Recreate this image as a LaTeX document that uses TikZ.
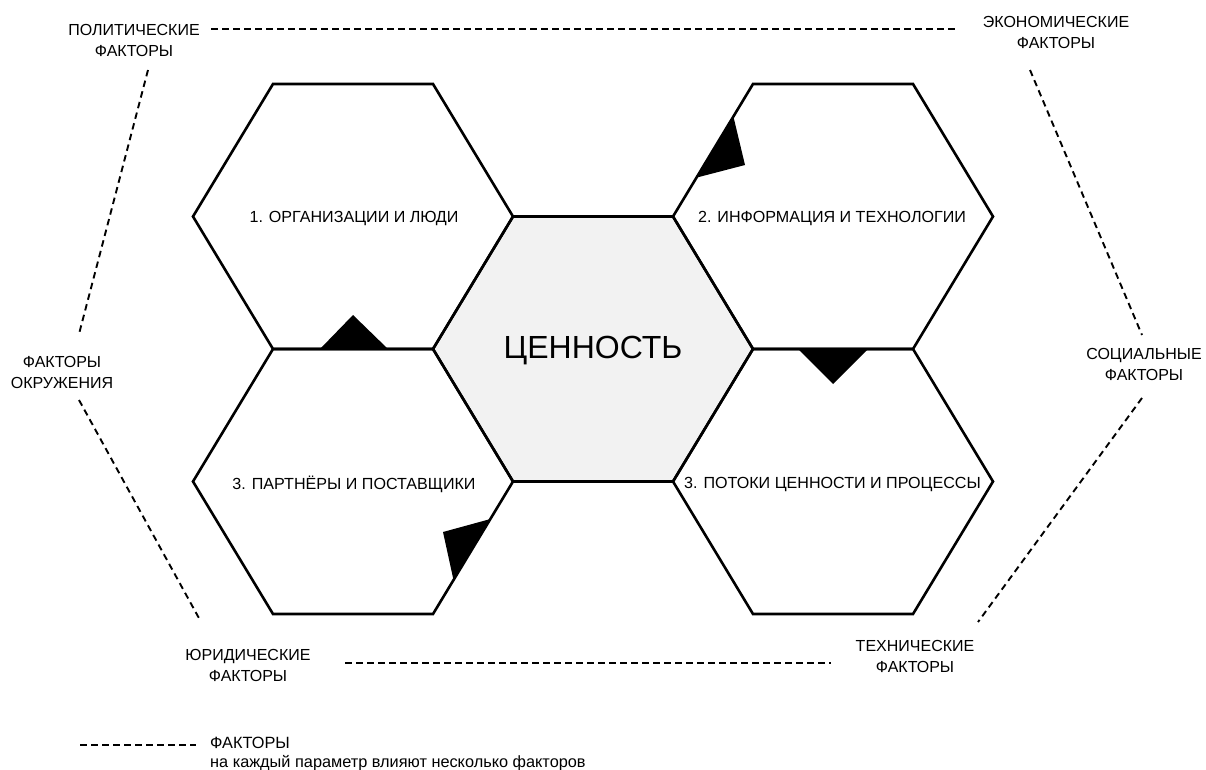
\documentclass[tikz,border=0pt]{standalone}
\usepackage{fontspec}
\setmainfont{Liberation Sans}
\begin{document}
\begin{tikzpicture}[x=1pt,y=-1pt,
  hexline/.style={line width=2.6pt, line join=miter},
  corefill/.style={fill=black!5},
  marker/.style={fill=black},
  factorline/.style={line width=1.9pt, dash pattern=on 6.5pt off 4.5pt},
  factorlbl/.style={font=\fontsize{16}{21}\selectfont, align=center, inner sep=0pt},
  hexlbl/.style={font=\fontsize{16.1}{18}\selectfont, inner sep=0pt},
  corelbl/.style={font=\fontsize{32}{36}\selectfont, inner sep=0pt},
  legendlbl/.style={font=\fontsize{16.3}{18}\selectfont, anchor=west, inner sep=0pt}]
\useasboundingbox (0,0) rectangle (1206,770);

% hexagon outline around a centre point
\def\hexpath(#1,#2){(#1-160,#2) -- (#1-80,#2-132.5) -- (#1+80,#2-132.5) -- (#1+160,#2) -- (#1+80,#2+132.5) -- (#1-80,#2+132.5) -- cycle}

% value core
\fill[corefill] \hexpath(593,349);

% the five hexagons
\draw[hexline] \hexpath(353,216.5);
\draw[hexline] \hexpath(833,216.5);
\draw[hexline] \hexpath(353,481.5);
\draw[hexline] \hexpath(833,481.5);
\draw[hexline] \hexpath(593,349);

% black markers on the edges
\fill[marker] (320,349) -- (353,315) -- (388,349) -- cycle;
\fill[marker] (798,349) -- (833,384) -- (868,349) -- cycle;
\fill[marker] (733.5,117) -- (745,165) -- (697,177.5) -- cycle;
\fill[marker] (490.5,519) -- (443,532) -- (453.5,580) -- cycle;

% hexagon labels
\node[hexlbl] (org)  at (354,218) {1. ОРГАНИЗАЦИИ И ЛЮДИ};
\node[hexlbl] (info) at (832,218) {2. ИНФОРМАЦИЯ И ТЕХНОЛОГИИ};
\node[hexlbl] (part) at (354,484) {3. ПАРТНЁРЫ И ПОСТАВЩИКИ};
\node[hexlbl] (flow) at (832.5,484) {3. ПОТОКИ ЦЕННОСТИ И ПРОЦЕССЫ};
\node[corelbl] (core) at (593,351) {ЦЕННОСТЬ};

% factor labels
\node[factorlbl] (pol)  at (134,40)  {ПОЛИТИЧЕСКИЕ\\ФАКТОРЫ};
\node[factorlbl] (eco)  at (1056,32) {ЭКОНОМИЧЕСКИЕ\\ФАКТОРЫ};
\node[factorlbl] (env)  at (62,372)  {ФАКТОРЫ\\ОКРУЖЕНИЯ};
\node[factorlbl] (soc)  at (1144,364) {СОЦИАЛЬНЫЕ\\ФАКТОРЫ};
\node[factorlbl] (law)  at (248,665) {ЮРИДИЧЕСКИЕ\\ФАКТОРЫ};
\node[factorlbl] (tech) at (915,656) {ТЕХНИЧЕСКИЕ\\ФАКТОРЫ};

% ends of the factor lines
\coordinate (polE) at (211,29);
\coordinate (ecoW) at (956,29);
\coordinate (polS) at (148,70);
\coordinate (envN) at (79,334);
\coordinate (envS) at (79,400);
\coordinate (lawN) at (200,620);
\coordinate (lawE) at (345,663);
\coordinate (techW) at (831,663);
\coordinate (ecoS) at (1030,70);
\coordinate (socN) at (1142,335);
\coordinate (socS) at (1142,398);
\coordinate (techN) at (978,622);

\draw[factorline] (polE) -- (ecoW);
\draw[factorline] (polS) -- (envN);
\draw[factorline] (envS) -- (lawN);
\draw[factorline] (lawE) -- (techW);
\draw[factorline] (ecoS) -- (socN);
\draw[factorline] (socS) -- (techN);

% legend
\coordinate (legW) at (80,745);
\coordinate (legE) at (196,745);
\draw[factorline] (legW) -- (legE);
\node[legendlbl] (legT) at (210,743) {ФАКТОРЫ};
\node[legendlbl] (legN) at (210,763) {на каждый параметр влияют несколько факторов};
\end{tikzpicture}
\end{document}
